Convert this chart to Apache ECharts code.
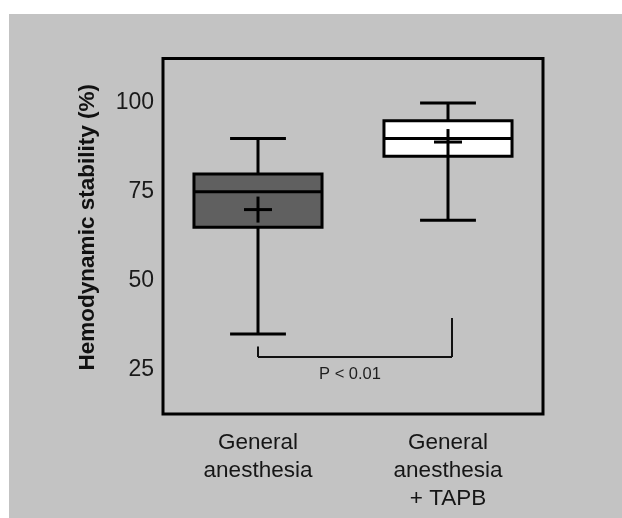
<!DOCTYPE html>
<html>
<head>
<meta charset="utf-8">
<script src="https://cdn.jsdelivr.net/npm/echarts@6/dist/echarts.min.js"></script>
<style>
  html, body { margin: 0; padding: 0; background: #fff; }
  #chart { width: 622px; height: 518px; }
</style>
</head>
<body>
<div id="chart"></div>
<script>
// groups on the x axis
var categories = ['General\nanesthesia', 'General\nanesthesia\n+ TAPB'];
// box plot values per group
var whiskerLow = [35, 67];
var quartile1 = [65, 85];
var medians = [75, 90];
var quartile3 = [80, 95];
var whiskerHigh = [90, 100];
var means = [70, 89];
// y axis ticks
var yTicks = [25, 50, 75, 100];
// significance bracket: left top, bottom, right top
var bracketLeftTop = 31.5;
var bracketBottom = 28.5;
var bracketRightTop = 39.5;
var pLabel = 'P < 0.01';

var boxFills = ['#606060', '#ffffff'];
var font = "'Liberation Sans', Arial, Helvetica, sans-serif";

var boxData = categories.map(function (c, i) {
  return [i, whiskerLow[i], quartile1[i], medians[i], quartile3[i], whiskerHigh[i], means[i]];
});

function line(x1, y1, x2, y2) {
  return {
    type: 'line',
    shape: { x1: x1, y1: y1, x2: x2, y2: y2 },
    style: { stroke: '#000', lineWidth: 3 }
  };
}

function renderBox(params, api) {
  var i = api.value(0);
  var band = api.size([1, 0])[0];
  var x = api.coord([i, 0])[0];
  var half = band * 0.337;
  var cap = band * 0.147;
  var y = function (v) { return api.coord([i, v])[1]; };
  var yLo = y(api.value(1)), yQ1 = y(api.value(2)), yMed = y(api.value(3));
  var yQ3 = y(api.value(4)), yHi = y(api.value(5)), yMean = y(api.value(6));
  return {
    type: 'group',
    children: [
      line(x, yLo, x, yQ1),
      line(x, yQ3, x, yHi),
      line(x - cap, yLo, x + cap, yLo),
      line(x - cap, yHi, x + cap, yHi),
      {
        type: 'rect',
        shape: { x: x - half, y: yQ3, width: half * 2, height: yQ1 - yQ3 },
        style: { fill: boxFills[params.dataIndex], stroke: '#000', lineWidth: 3 }
      },
      line(x - half, yMed, x + half, yMed),
      line(x - 14, yMean, x + 14, yMean),
      line(x, yMean - 13, x, yMean + 13)
    ]
  };
}

function renderBracket(params, api) {
  var pl = api.coord([0, bracketLeftTop]);
  var pb = api.coord([0, bracketBottom]);
  var pr = api.coord([1, bracketRightTop]);
  var xr = pr[0] + 4;
  var st = { stroke: '#111', lineWidth: 2 };
  return {
    type: 'group',
    children: [
      { type: 'line', shape: { x1: pl[0], y1: pl[1], x2: pl[0], y2: pb[1] }, style: st },
      { type: 'line', shape: { x1: pl[0], y1: pb[1], x2: xr, y2: pb[1] }, style: st },
      { type: 'line', shape: { x1: xr, y1: pb[1], x2: xr, y2: pr[1] }, style: st },
      {
        type: 'text',
        x: (pl[0] + xr) / 2 - 5,
        y: pb[1] + 17,
        style: {
          text: pLabel, fill: '#1e1e1e', font: '16.5px ' + font,
          align: 'center', verticalAlign: 'middle'
        }
      }
    ]
  };
}

var chart = echarts.init(document.getElementById('chart'));
chart.setOption({
  backgroundColor: '#fff',
  animation: false,
  graphic: {
    elements: [{
      type: 'rect', z: -100,
      shape: { x: 9, y: 14, width: 613, height: 504 },
      style: { fill: '#c3c3c3' }
    }]
  },
  grid: {
    left: 163, top: 58.5, width: 380, height: 355.5,
    show: true, borderColor: '#000', borderWidth: 3, backgroundColor: 'transparent'
  },
  xAxis: {
    type: 'category',
    data: categories,
    axisLine: { show: false },
    axisTick: { show: false },
    splitLine: { show: false },
    axisLabel: {
      margin: 15, fontSize: 22.5, lineHeight: 28, color: '#161616', fontFamily: font
    }
  },
  yAxis: [{
    type: 'value', position: 'left',
    min: 12.5, max: 112.5,
    name: 'Hemodynamic stability (%)',
    nameLocation: 'middle', nameRotate: 90, nameGap: 64,
    nameTextStyle: {
      fontSize: 22.5, fontWeight: 'bold', color: '#111', fontFamily: font,
      padding: [0, 0, 0, 18]
    },
    axisLine: { show: false },
    splitLine: { show: false },
    axisTick: { inside: true, length: 7, lineStyle: { color: '#000', width: 3 }, customValues: yTicks },
    axisLabel: { margin: 9, fontSize: 23, color: '#1a1a1a', fontFamily: font, customValues: yTicks }
  }, {
    type: 'value', position: 'right',
    min: 12.5, max: 112.5,
    axisLine: { show: false },
    splitLine: { show: false },
    axisTick: { inside: true, length: 7, lineStyle: { color: '#000', width: 3 }, customValues: yTicks },
    axisLabel: { show: false }
  }],
  series: [{
    type: 'custom',
    renderItem: renderBox,
    data: boxData,
    encode: { x: 0, y: [1, 2, 3, 4, 5, 6] },
    z: 3
  }, {
    type: 'custom',
    renderItem: renderBracket,
    data: [[0, bracketBottom]],
    encode: { x: 0, y: 1 },
    z: 3
  }]
});
</script>
</body>
</html>
